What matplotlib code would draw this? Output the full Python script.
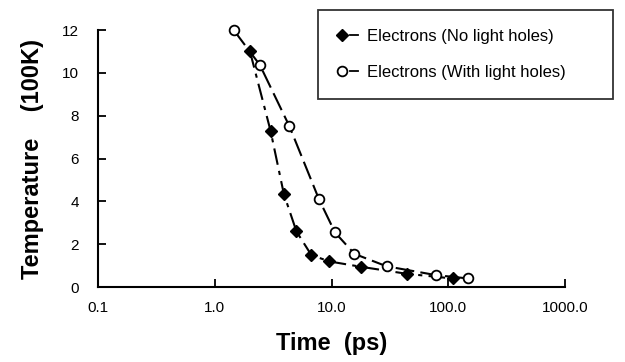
import numpy as np
import matplotlib.pyplot as plt

plt.rcParams['font.family'] = ['Liberation Sans', 'DejaVu Sans']

# time (ps) and temperature (100K)
t_no_lh = [2.0, 3.0, 3.9, 5.0, 6.7, 9.5, 17.7, 44, 109]
T_no_lh = [11.0, 7.3, 4.35, 2.6, 1.5, 1.2, 0.95, 0.62, 0.4]
t_with_lh = [1.45, 2.43, 4.36, 7.8, 10.7, 15.7, 29.6, 78, 149]
T_with_lh = [12.0, 10.37, 7.5, 4.1, 2.55, 1.55, 0.97, 0.56, 0.4]
xticks = [0.1, 1.0, 10.0, 100.0, 1000.0]
xtick_labels = ["0.1", "1.0", "10.0", "100.0", "1000.0"]
yticks = [0, 2, 4, 6, 8, 10, 12]

fig = plt.figure(figsize=(6.25, 3.62), dpi=100)
ax = fig.add_axes([0.157, 0.207, 0.747, 0.710])

ax.plot(t_no_lh, T_no_lh, color='black', lw=1.5, dashes=(8, 3, 2, 3),
        marker='D', ms=6.5, mfc='black', mec='black', clip_on=False,
        label='Electrons (No light holes)')
ax.plot(t_with_lh, T_with_lh, color='black', lw=1.5, dashes=(9, 3),
        marker='o', ms=7, mfc='white', mec='black', mew=1.3, clip_on=False,
        label='Electrons (With light holes)')

ax.set_xscale('log')
ax.set_xlim(0.1, 1000)
ax.set_ylim(0, 12)
ax.set_xticks(xticks)
ax.set_xticklabels(xtick_labels)
ax.minorticks_off()
ax.set_yticks(yticks)
ax.tick_params(direction='in', length=6, width=1.3, labelsize=11)
ax.tick_params(axis='x', pad=10)
ax.tick_params(axis='y', pad=14)
ax.spines['top'].set_visible(False)
ax.spines['right'].set_visible(False)
ax.spines['left'].set_linewidth(1.5)
ax.spines['bottom'].set_linewidth(1.5)

ax.set_xlabel('Time  (ps)', fontsize=17, fontweight='bold', labelpad=12)
ax.set_ylabel('Temperature    (100K)', fontsize=17, fontweight='bold', labelpad=13)

leg = ax.legend(loc='upper left', bbox_to_anchor=(0.509, 0.732, 0.472, 0.240),
                bbox_transform=fig.transFigure, mode='expand', borderaxespad=0,
                fontsize=12, frameon=True, fancybox=False, edgecolor='black',
                handlelength=1.3, handletextpad=0.5, borderpad=1.15,
                labelspacing=1.25)
leg.get_frame().set_linewidth(1.3)
for h in leg.get_lines():
    x0, xm, x1 = h.get_xdata()
    y = h.get_ydata()[0]
    L = x1 - x0
    h.set_xdata([x0 + 0.2 * L, np.nan, x0 + 0.6 * L, x0 + 0.95 * L])
    h.set_ydata([y, np.nan, y, y])
    h.set_markevery([0])
    h.set_linestyle('-')
    h.set_linewidth(1.3)

fig.savefig('out.png', dpi=100, facecolor='white')
